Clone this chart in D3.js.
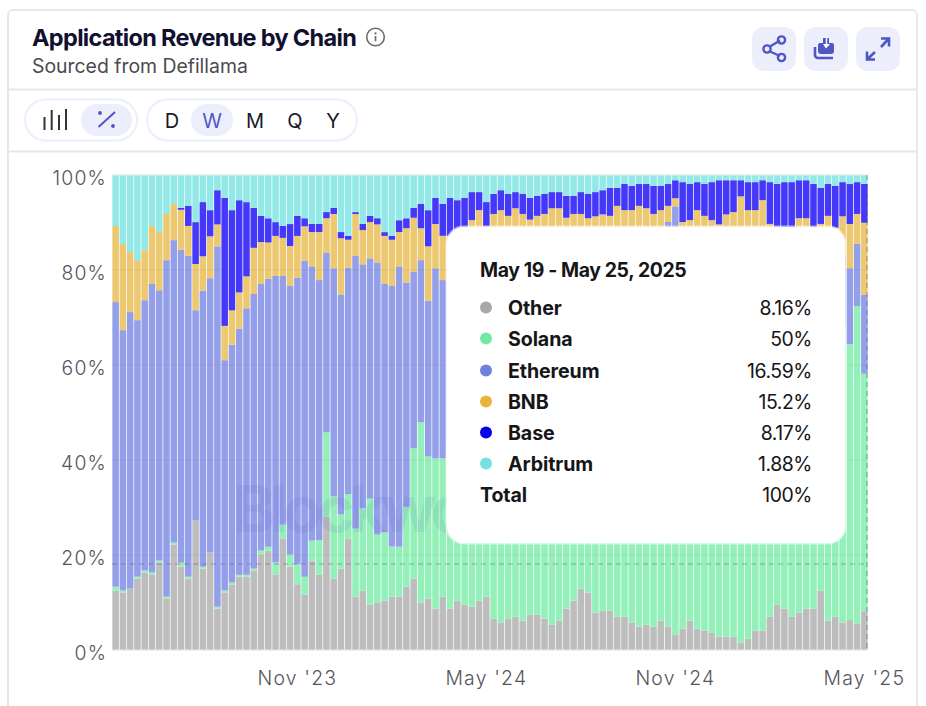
<!DOCTYPE html>
<html>
<head>
<meta charset="utf-8">
<script src="https://cdn.jsdelivr.net/npm/d3@7"></script>
<style>
html,body{margin:0;padding:0;background:#fff;overflow:hidden}
svg{display:block}
text{font-family:Inter,"Liberation Sans",sans-serif}
</style>
</head>
<body>
<svg id="c" width="926" height="706"></svg>
<script>
const titleText = "Application Revenue by Chain";
const subtitleText = "Sourced from Defillama";
const watermarkText = "Blockwo";
const seriesNames = ["Other","Solana","Ethereum","BNB","Base","Arbitrum"];
const barColors = ["#bdbdbd","#93f0b8","#949fe9","#ecc870","#4638f8","#93e8e8"];
const dotColors = ["#a8a8a8","#70e9a4","#6f80de","#e8b53c","#0800e6","#78e0e0"];
const tooltipValues = ["8.16%","50%","16.59%","15.2%","8.17%","1.88%"];
const tooltipDate = "May 19 - May 25, 2025";
const periodLabels = ["D","W","M","Q","Y"];
const yTicks = [0,0.2,0.4,0.6,0.8,1];
const xTickIndexes = [25,51,77,103];
const xTickLabels = ["Nov '23","May '24","Nov '24","May '25"];
const weeks = d3.utcDay.range(new Date(Date.UTC(2023,4,29)), new Date(Date.UTC(2025,4,20)), 7);

const other = [12.5,12.1,12.9,15.0,16.3,15.9,18.4,10.8,22.2,17.5,15.0,27.2,17.1,20.5,8.7,12.1,13.8,15.4,15.4,16.7,20.1,20.9,15.9,23.4,17.5,13.8,11.6,18.8,15.9,28.1,15.0,17.1,23.4,11.2,12.5,9.5,10.0,10.4,11.2,11.2,13.3,15.0,10.0,10.8,8.7,11.2,
8.7,10.4,9.5,9.1,10.4,11.2,6.6,5.8,6.6,7.0,6.2,7.4,7.4,6.6,5.3,6.2,8.7,10.4,12.9,12.1,7.9,8.3,8.3,7.0,7.0,5.8,4.9,5.3,4.9,6.2,4.9,3.2,4.5,6.2,4.5,4.1,3.6,2.8,2.8,2.8,1.5,2.4,4.1,4.1,7.0,9.5,8.7,7.0,7.9,8.7,8.7,12.5,6.2,7.0,5.8,6.3,5.5,8.16];
const solana = [0.8,0.4,0,0.4,0.4,0.4,0.4,0.4,0.4,0.8,0.4,0,0.4,0,0.4,0.4,0.4,0.4,0.4,0.4,0.8,0.8,2.5,2.9,2.5,4.2,3.8,4.2,7.2,17.7,17.3,11.4,9.3,14.3,17.3,22.3,14.3,14.3,10.5,10.5,16.8,27.4,37.9,29.9,31.6,29.1,
34.5,41.8,45.2,46.4,47.2,51,53.2,55.8,57.8,58,59.6,59.2,60,61.2,63.7,62.8,61.3,60.4,57.9,59.8,64.4,64.4,65.1,66.5,67.6,68.8,69.6,69.7,70.9,69.4,75.2,75.2,71.6,69.3,71.1,71.3,72.9,73.8,73.9,73.4,75,73.2,71.5,71.6,68.7,66.6,67.3,68,67,66.2,64.9,60.2,65.2,62.9,62.5,58,66.9,50];
const ethereum = [59.8,54.7,58.1,53.9,56.8,60.6,56.8,70.7,63.6,65.7,67.4,44.2,58.1,57.7,75.8,48.4,50.1,51.8,56.0,57.7,56.0,56.4,60.2,52.2,56.4,60.2,66.5,57.7,54.7,37.9,48.0,46.3,47.6,57.3,51.4,50.5,57.3,52.2,54.7,58.9,47.2,37.1,34.1,32.8,40,37.5,
36,26,25,28,26,23,24,22,20,19,18,18,17,16,15,15,15,14,14,13,13,12,12,12,11,11,11,11,10,10,10,15,9,9,9,9,8,8,8,8,8,9,9,9,10,10,10,11,11,11,12,13,13,14,15,16,13.1,16.59];
const bnb = [16,18.1,12.6,12.6,10.5,12.2,12.2,9.7,7.6,8.4,6.3,9.7,7.2,8.8,4.6,7.2,7.2,7.6,6.7,9.7,8.8,7.6,8.4,8,8.4,8.8,7.2,7.2,10.1,7.2,11.4,11.8,5.9,8.8,7.2,7.6,8,10.1,9.7,7.2,11.4,11.4,6.7,11.4,9.3,9.3,
8,9,9,7,9,4,8,9,7,9,8,6,7,8,9,9,6,7,7,6,6,7,6,8,7,7,8,7,6,7,3.4,1.7,5,6,8,7,6,5,7,8,11,8,8,10,4,3,3,3,5,5,3,4,7,5,8,9.3,6.3,15.2];
const base = [0,0,0,0,0,0,0,0,0,0.4,4.2,8.8,11.4,5.5,7.2,26.9,21.1,19.4,15.6,8.4,5.5,5.1,2.9,2.5,4.6,4.2,1.7,1.7,1.7,1.3,1.3,1.3,0.8,0.4,1.3,1.3,1.3,0.8,0.8,2.5,2.1,2.1,5.1,7.6,5.5,6.7,
8,7.5,6.5,5.9,3.8,5.1,4.2,4.2,4.6,3.4,4.2,4.6,4.2,4.2,3.4,3.4,4.6,3.8,4.6,5.1,5.1,5.1,5.9,3.8,5.5,5.1,4.6,5.1,5.9,5.1,4.6,3.8,8.4,7.6,5.9,6.7,8,9.3,7.2,6.7,3.4,5.9,5.9,4.2,8.8,9,9.5,9.5,8,8,9.5,7.6,6.7,8.8,7.2,8.4,6.7,8.17];
const arbitrum = [10.7,14.5,16.2,17.9,15.8,10.7,12,8.2,6.1,6.9,6.5,9.9,5.7,7.4,3.2,4.8,7.4,5.3,5.7,6.9,8.6,9.1,9.9,10.7,10.3,8.6,9.1,10.3,10.3,7.8,6.9,12,12.8,7.8,10.3,8.6,9.1,12,12.8,9.5,9.1,6.9,6.1,7.4,4.8,6.1,
4.8,5.3,4.8,3.6,3.6,5.7,4,3.2,4,3.6,4,4.8,4.4,4,3.6,3.6,4.4,4.4,3.6,4,3.6,3.2,2.7,2.7,1.9,2.3,1.9,1.9,2.3,2.3,1.9,1.1,1.5,1.9,1.5,1.9,1.5,1.1,1.1,1.1,1.1,1.5,1.5,1.1,1.5,1.9,1.5,1.5,1.1,1.1,1.9,2.7,1.9,2.3,1.5,1.9,1.5,1.88];

const seriesValues = [other,solana,ethereum,bnb,base,arbitrum];
const rows = weeks.map((w,i)=>{const r={week:w};seriesNames.forEach((n,k)=>r[n]=seriesValues[k][i]);return r;});
const stacked = d3.stack().keys(seriesNames).offset(d3.stackOffsetExpand)(rows);

const svg = d3.select("#c");
const ACCENT="#5057c4", SOFT="#eceefc", LINE="#e8e8e8";

/* card */
svg.append("path").attr("d","M8 706V15a5 5 0 0 1 5-5H912a5 5 0 0 1 5 5V706").attr("fill","#fff").attr("stroke",LINE).attr("stroke-width",2);
svg.append("line").attr("x1",8).attr("x2",917).attr("y1",89.5).attr("y2",89.5).attr("stroke",LINE).attr("stroke-width",2);
svg.append("line").attr("x1",8).attr("x2",917).attr("y1",151.5).attr("y2",151.5).attr("stroke",LINE).attr("stroke-width",2);

/* header */
svg.append("text").attr("x",32).attr("y",46).text(titleText).attr("font-size",23.5).attr("font-weight",700).attr("fill","#12102f").attr("letter-spacing",-0.68);
svg.append("text").attr("x",32).attr("y",73).text(subtitleText).attr("font-size",19.4).attr("fill","#4a4a50");
const info = svg.append("g").attr("transform","translate(375.5,37)");
info.append("circle").attr("r",8.8).attr("fill","none").attr("stroke","#6a6a70").attr("stroke-width",1.6);
info.append("circle").attr("cy",-3.6).attr("r",1.1).attr("fill","#6a6a70");
info.append("line").attr("y1",-1).attr("y2",4.2).attr("stroke","#6a6a70").attr("stroke-width",1.7);

/* action buttons */
[752,804,856].forEach(x=>svg.append("rect").attr("x",x).attr("y",27).attr("width",44).attr("height",44).attr("rx",12).attr("fill",SOFT));
const share = svg.append("g").attr("fill","none").attr("stroke",ACCENT).attr("stroke-width",2.4);
share.append("path").attr("d","M770 46.5L780 40.5M770 51.5L780 56");
share.append("circle").attr("cx",767).attr("cy",49).attr("r",3.6);
share.append("circle").attr("cx",781.5).attr("cy",40).attr("r",3.6);
share.append("circle").attr("cx",781.5).attr("cy",57.5).attr("r",3.6);
const save = svg.append("g");
save.append("path").attr("d","M820 43h3v-5h6v5h3a2 2 0 0 1 2 2v6a3 3 0 0 1-3 3h-10a3 3 0 0 1-3-3v-6a2 2 0 0 1 2-2z").attr("fill",ACCENT);
save.append("path").attr("d","M823 44h2.8v-7h1.4v7H830l-4 4.6z").attr("fill","#fff");
save.append("path").attr("d","M815 47v8a3 3 0 0 0 3 3h15").attr("fill","none").attr("stroke",ACCENT).attr("stroke-width",2.6);
const exp = svg.append("g").attr("fill","none").attr("stroke",ACCENT).attr("stroke-width",2.6);
exp.append("path").attr("d","M881 47L888 39.5M881 38.5H889V46.5");
exp.append("path").attr("d","M867 59.5L875 52M867 51.5V59.5H875");

/* toolbar */
svg.append("rect").attr("x",25).attr("y",99.5).attr("width",112).attr("height",41).attr("rx",20.5).attr("fill","#fff").attr("stroke",SOFT).attr("stroke-width",2);
svg.append("rect").attr("x",81).attr("y",104).attr("width",51).attr("height",32).attr("rx",16).attr("fill",SOFT);
svg.append("path").attr("d","M44.5 117V130M51.7 110V130M59 115V130M66 109V130").attr("stroke","#333").attr("stroke-width",2).attr("fill","none");
svg.append("path").attr("d","M98.5 127L115 112").attr("stroke",ACCENT).attr("stroke-width",2);
svg.append("circle").attr("cx",100).attr("cy",113).attr("r",1.9).attr("fill",ACCENT);
svg.append("circle").attr("cx",113).attr("cy",126).attr("r",1.9).attr("fill",ACCENT);
svg.append("rect").attr("x",147).attr("y",99.5).attr("width",210).attr("height",41).attr("rx",20.5).attr("fill","#fff").attr("stroke",SOFT).attr("stroke-width",2);
svg.append("rect").attr("x",191).attr("y",104).attr("width",42).attr("height",32).attr("rx",16).attr("fill",SOFT);
const periodX = d3.scaleOrdinal().domain(periodLabels).range([172,212,255,295,333]);
svg.selectAll("text.period").data(periodLabels).join("text").attr("class","period")
  .attr("x",d=>periodX(d)).attr("y",128).attr("text-anchor","middle").attr("font-size",20)
  .attr("fill",d=>d==="W"?ACCENT:"#1a1a1f").text(d=>d);

/* chart */
const x = d3.scaleBand().domain(d3.range(weeks.length)).range([112,868]).paddingInner(0.1).paddingOuter(0.05);
const y = d3.scaleLinear().domain([0,1]).range([650,175]);

const gBars = svg.append("g");
gBars.selectAll("g").data(stacked).join("g").attr("fill",(d,i)=>barColors[i])
  .selectAll("rect").data(d=>d.map((v,i)=>({v,i}))).join("rect")
  .attr("x",d=>x(d.i)).attr("width",x.bandwidth())
  .attr("y",d=>y(d.v[1])).attr("height",d=>y(d.v[0])-y(d.v[1]));

/* grid over bars */
svg.append("g").selectAll("line").data(yTicks).join("line")
  .attr("x1",112).attr("x2",868).attr("y1",d=>y(d)).attr("y2",d=>y(d))
  .attr("stroke",d=>d===0||d===1?"#e6e6e6":"#000").attr("stroke-opacity",d=>d===0||d===1?1:0.05).attr("stroke-width",1.2);

/* y axis */
const yAxis = svg.append("g").attr("transform","translate(112,0)")
  .call(d3.axisLeft(y).tickValues(yTicks).tickSize(0).tickPadding(5).tickFormat(d=>Math.round(d*100)+"%"));
yAxis.select(".domain").remove();
yAxis.selectAll("text").attr("font-family","Inter").attr("font-size",19.4).attr("font-weight",300).attr("fill","#55555a").attr("letter-spacing",1.2).attr("dy","9.5px");

/* x axis */
const xAxis = svg.append("g").attr("transform","translate(0,650)")
  .call(d3.axisBottom(x).tickValues(xTickIndexes).tickSize(0).tickPadding(21).tickFormat(d=>xTickLabels[xTickIndexes.indexOf(d)]));
xAxis.select(".domain").remove();
xAxis.selectAll("text").attr("font-family","Inter").attr("font-size",19.4).attr("font-weight",300).attr("fill","#55555a").attr("letter-spacing",1.2);

/* watermark */
svg.append("text").attr("x",233).attr("y",532).text(watermarkText).attr("font-size",64).attr("font-weight",700).attr("fill","#3a4ab0").attr("fill-opacity",0.09).attr("letter-spacing",-5);

/* crosshair */
svg.append("line").attr("x1",112).attr("x2",868).attr("y1",564).attr("y2",564).attr("stroke","#555").attr("stroke-opacity",0.45).attr("stroke-width",1.2).attr("stroke-dasharray","5 4");
svg.append("line").attr("x1",867).attr("x2",867).attr("y1",175).attr("y2",650).attr("stroke","#555").attr("stroke-opacity",0.45).attr("stroke-width",1.2).attr("stroke-dasharray","5 4");

/* tooltip */
const tip = svg.append("g");
tip.append("rect").attr("x",447).attr("y",227).attr("width",398).attr("height",316).attr("rx",17).attr("fill","#fff").attr("stroke","#ffffff").attr("stroke-opacity",0.6).attr("stroke-width",3);
tip.append("text").attr("x",480).attr("y",277).text(tooltipDate).attr("font-size",19.4).attr("font-weight",700).attr("fill","#161618").attr("letter-spacing",-0.38);
const rowY = d3.scaleOrdinal().domain(seriesNames).range([315,346,378,409,440,471]);
seriesNames.forEach((n,i)=>{
  tip.append("circle").attr("cx",486).attr("cy",rowY(n)-7.5).attr("r",6).attr("fill",dotColors[i]);
  tip.append("text").attr("x",508).attr("y",rowY(n)).text(n).attr("font-size",19.6).attr("font-weight",700).attr("fill","#161618").attr("letter-spacing",-0.1);
  tip.append("text").attr("x",812).attr("y",rowY(n)).attr("text-anchor","end").text(tooltipValues[i]).attr("font-size",19.4).attr("fill","#161618").attr("letter-spacing",-0.4);
});
tip.append("text").attr("x",480).attr("y",502).text("Total").attr("font-size",19.6).attr("font-weight",700).attr("fill","#161618").attr("letter-spacing",-0.1);
tip.append("text").attr("x",812).attr("y",502).attr("text-anchor","end").text("100%").attr("font-size",19.4).attr("fill","#161618").attr("letter-spacing",-0.4);
</script>
</body>
</html>
